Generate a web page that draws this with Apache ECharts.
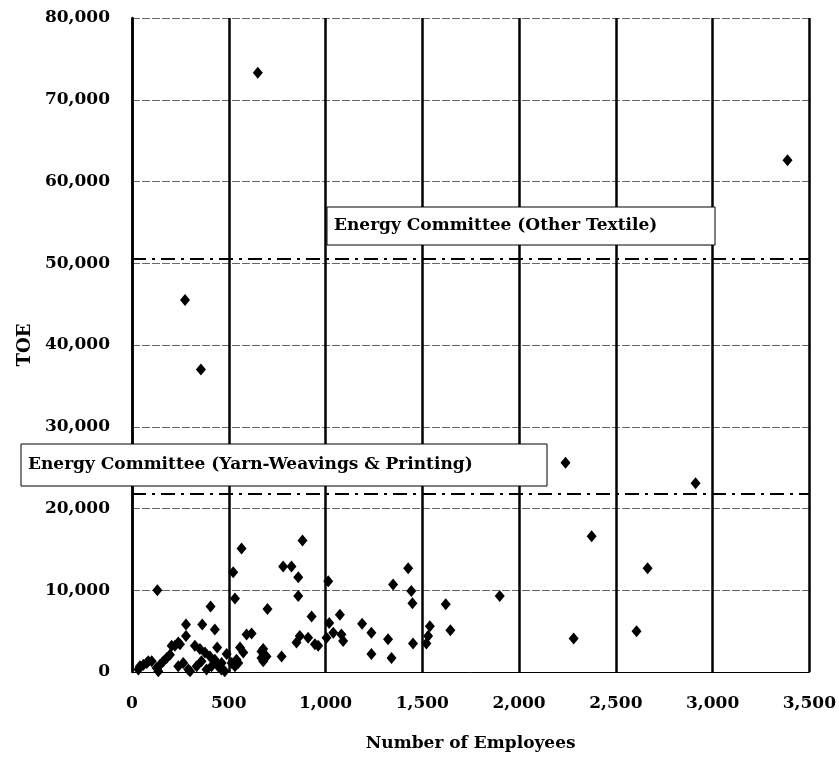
<!DOCTYPE html>
<html><head><meta charset="utf-8">
<script src="https://cdn.jsdelivr.net/npm/echarts@6/dist/echarts.min.js"></script>
<style>html,body{margin:0;padding:0;background:#fff}#c{width:839px;height:762px}</style>
</head><body><div id="c"></div>
<script>
// Number of employees (x) and TOE (y) for each plant
const employees = [650,274,356,3387,2240,2912,2375,2664,2282,2607,
566,881,523,781,824,859,532,859,131,406,700,928,279,279,363,428,592,618,867,910,945,
1014,1427,1349,1443,1449,1621,1900,1074,1019,1189,1237,1323,1452,1237,1341,1005,1040,1082,1091,1539,1530,1521,1645,962,669,669,773,850,
41,76,102,33,59,84,127,145,162,179,196,136,205,239,248,222,325,351,377,403,428,463,440,489,540,558,575,678,678,695,239,265,291,300,334,359,385,411,445,462,479,532,549,515];
const toe = [73300,45500,37000,62600,25600,23100,16600,12700,4100,5000,
15100,16100,12200,12900,12900,11600,9000,9300,10000,8000,7700,6800,5800,4400,5800,5200,4600,4700,4400,4200,3400,
11100,12700,10700,9900,8400,8300,9300,7000,6000,5900,4800,4000,3500,2200,1700,4200,4800,4600,3800,5600,4400,3500,5100,3200,2500,1700,1900,3600,
700,1100,1300,300,900,1300,500,900,1300,1700,2100,100,3200,3600,3400,3200,3200,2800,2400,1900,1500,1100,3000,2200,1500,3000,2400,2800,1300,1900,700,1100,300,100,700,1300,300,700,700,300,100,700,1100,1100];
const refLines = [
  {name: 'Energy Committee (Yarn-Weavings & Printing)', value: 21800},
  {name: 'Energy Committee (Other Textile)', value: 50600}
];
const xTicks = {min: 0, max: 3500, interval: 500};
const yTicks = {min: 0, max: 80000, interval: 10000};

const points = employees.map((e, i) => [e, toe[i]]);
const F = 'DejaVu Serif';
const fmt = v => Number(v).toLocaleString('en-US');

const chart = echarts.init(document.getElementById('c'));
chart.setOption({
  animation: false,
  backgroundColor: '#fff',
  grid: {left: 132, right: 29, top: 18, bottom: 90, containLabel: false},
  xAxis: {
    type: 'value', min: xTicks.min, max: xTicks.max, interval: xTicks.interval,
    name: 'Number of Employees', nameLocation: 'middle', nameGap: 63,
    nameTextStyle: {fontFamily: F, fontWeight: 'bold', fontSize: 17, color: '#000'},
    axisLine: {show: true, lineStyle: {color: '#000', width: 1}},
    axisTick: {show: false},
    axisLabel: {formatter: fmt, fontFamily: F, fontWeight: 'bold', fontSize: 17, color: '#000', margin: 23},
    splitLine: {show: true, lineStyle: {color: '#000', width: 2.5, type: 'solid'}}
  },
  yAxis: {
    type: 'value', min: yTicks.min, max: yTicks.max, interval: yTicks.interval,
    name: 'TOE', nameLocation: 'middle', nameGap: 98, nameRotate: 90,
    nameTextStyle: {fontFamily: F, fontWeight: 'bold', fontSize: 18, color: '#000'},
    axisLine: {show: true, lineStyle: {color: '#000', width: 2.5}},
    axisTick: {show: false},
    axisLabel: {formatter: fmt, fontFamily: F, fontWeight: 'bold', fontSize: 17, color: '#000', margin: 22},
    splitLine: {show: true, lineStyle: {color: '#666', width: 1, type: [8, 2]}}
  },
  series: [{
    type: 'scatter', data: points, symbol: 'diamond', symbolSize: [10, 12],
    itemStyle: {color: '#000', opacity: 1},
    emphasis: {disabled: true},
    markLine: {
      silent: true, symbol: 'none', animation: false,
      label: {show: false},
      lineStyle: {color: '#000', width: 2, type: [14, 6, 3, 6]},
      data: refLines.map(r => ({yAxis: r.value, name: r.name}))
    }
  }]
});

// annotation boxes
const boxes = [
  {text: refLines[1].name, x: 327, y: 207, w: 388, h: 38},
  {text: refLines[0].name, x: 21, y: 444, w: 526, h: 42}
];
const g = [];
boxes.forEach(b => {
  g.push({type: 'rect', shape: {x: b.x, y: b.y, width: b.w, height: b.h},
    style: {fill: '#fff', stroke: '#000', lineWidth: 1}, z: 100});
  g.push({type: 'text', x: b.x + 7, y: b.y + b.h / 2, z: 101,
    style: {text: b.text, font: 'bold 17px "DejaVu Serif"', fill: '#000', verticalAlign: 'middle', align: 'left'}});
});
chart.setOption({graphic: g});
</script></body></html>
